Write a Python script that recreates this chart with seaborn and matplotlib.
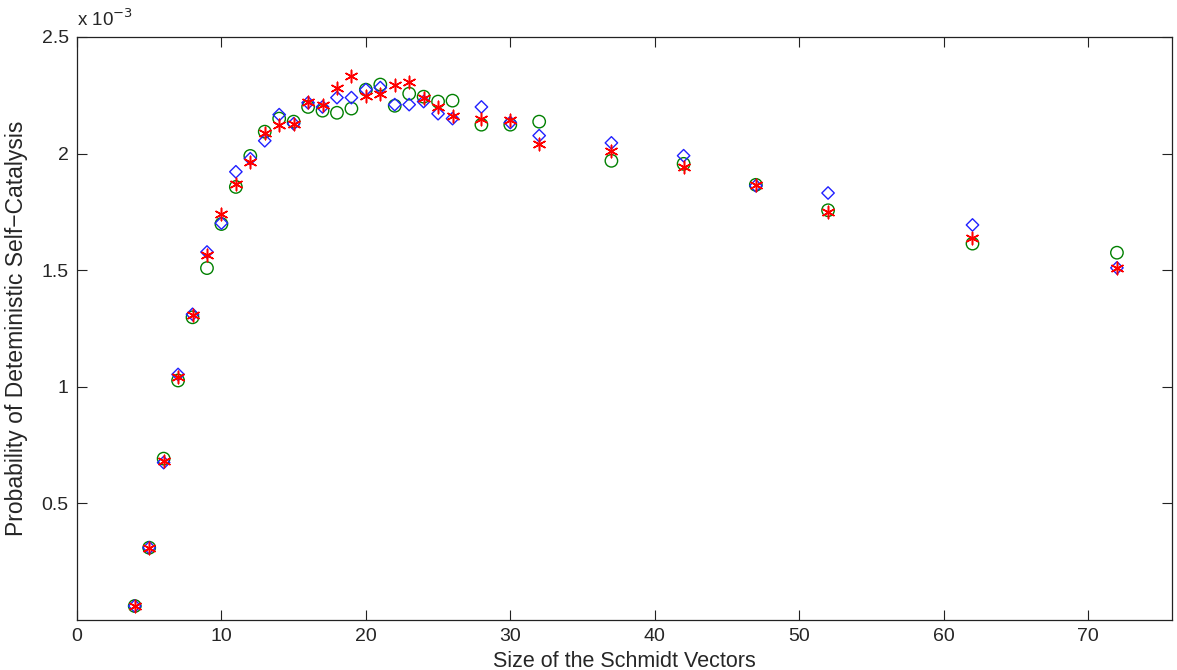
import numpy as np
import pandas as pd
import matplotlib
matplotlib.use('Agg')
import matplotlib.pyplot as plt
import seaborn as sns

# tamanhos dos vetores de Schmidt
sizes = [4, 5, 6, 7, 8, 9, 10, 11, 12, 13, 14, 15, 16, 17, 18, 19, 20, 21,
         22, 23, 24, 25, 26, 28, 30, 32, 37, 42, 47, 52, 62, 72]

# probabilidades (x 1e-3)
green = [0.06, 0.31, 0.692, 1.027, 1.298, 1.509, 1.698, 1.857, 1.99, 2.094, 2.15, 2.137,
         2.2, 2.184, 2.175, 2.193, 2.274, 2.296, 2.205, 2.257, 2.244, 2.223, 2.227, 2.124,
         2.124, 2.137, 1.969, 1.956, 1.866, 1.757, 1.614, 1.575]
blue = [0.06, 0.31, 0.675, 1.053, 1.311, 1.578, 1.702, 1.922, 1.978, 2.055, 2.167, 2.128,
        2.218, 2.2, 2.24, 2.24, 2.274, 2.283, 2.21, 2.21, 2.223, 2.171, 2.15, 2.2,
        2.133, 2.077, 2.046, 1.991, 1.862, 1.831, 1.694, 1.51]
red = [0.06, 0.31, 0.68, 1.04, 1.307, 1.565, 1.741, 1.87, 1.965, 2.089, 2.124, 2.128,
       2.223, 2.21, 2.283, 2.334, 2.247, 2.257, 2.296, 2.309, 2.24, 2.2, 2.162, 2.15,
       2.145, 2.042, 2.012, 1.943, 1.866, 1.75, 1.638, 1.51]

sns.set_style('ticks')
plt.rcParams['font.family'] = ['Liberation Sans', 'DejaVu Sans']

fig = plt.figure(figsize=(11.77, 6.70), dpi=100)
ax = fig.add_axes([0.0654, 0.0746, 0.9302, 0.8702])

sns.scatterplot(x=sizes, y=green, ax=ax, marker='o', s=80, facecolor='none',
                edgecolor='#008000', linewidth=1.0, zorder=3)
sns.scatterplot(x=sizes, y=blue, ax=ax, marker='D', s=40, facecolor='none',
                edgecolor='#2020ff', linewidth=1.0, zorder=4)
sns.scatterplot(x=sizes, y=red, ax=ax, marker=(6, 2, 0), s=80, color='#ff0000',
                linewidth=1.1, zorder=5)

ax.set_xlim(0, 75.8)
ax.set_ylim(0, 2.5)
ax.set_xticks(range(0, 80, 10))
ax.set_yticks([0.5, 1, 1.5, 2, 2.5])
ax.set_yticklabels(['0.5', '1', '1.5', '2', '2.5'])
ax.tick_params(direction='in', length=7, width=0.8, top=True, right=True,
               labelsize=14, color='#222222', pad=6)
for sp in ax.spines.values():
    sp.set_linewidth(0.9)
    sp.set_color('#222222')
    sp.set_visible(True)

ax.set_xlabel('Size of the Schmidt Vectors', fontsize=15.5, labelpad=4)
ax.set_ylabel('Probability of Deteministic Self\u2212Catalysis', fontsize=16.5, labelpad=10)
ax.text(0.0, 1.012, 'x 10$^{-3}$', transform=ax.transAxes, fontsize=13.5,
        ha='left', va='bottom')

fig.savefig('out.png', dpi=100)
